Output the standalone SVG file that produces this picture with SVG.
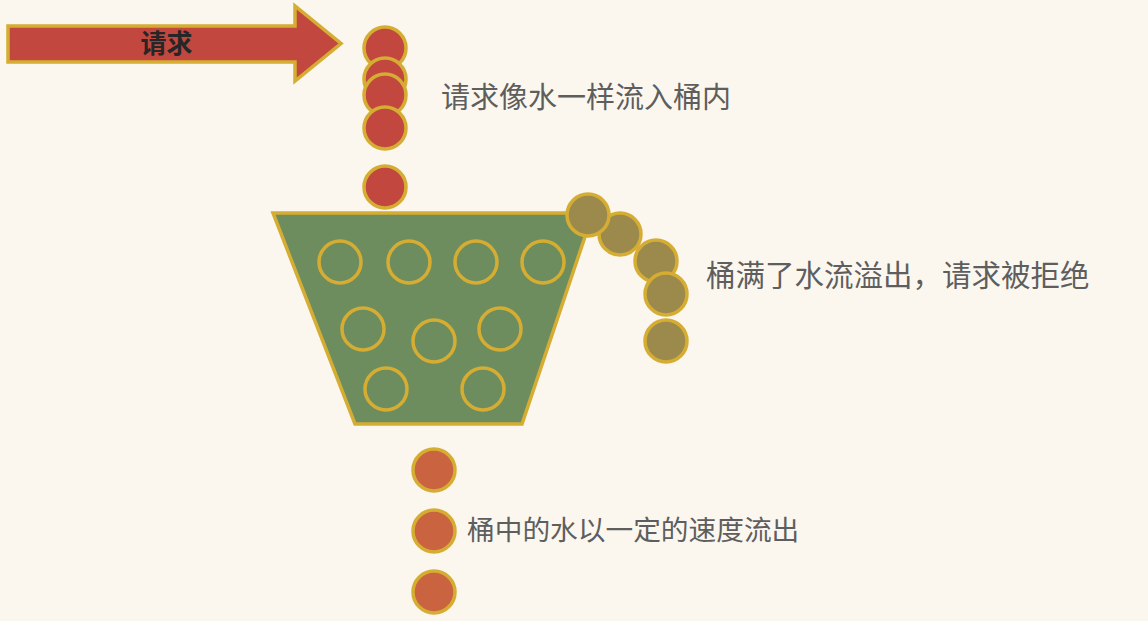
<svg xmlns="http://www.w3.org/2000/svg" width="1148" height="621" viewBox="0 0 1148 621">
  <style>
    .gold { stroke: #D5AD32; stroke-width: 3.5; }
    .red { fill: #C2483F; }
    .brown { fill: #9C8A4D; }
    .orange { fill: #CA6340; }
    .hollow { fill: none; stroke: #D5AD32; stroke-width: 3.5; }
    .label { font-family: "Noto Sans CJK SC", "Noto Sans", sans-serif; fill: #5E5E5E; }
    .arrowlabel { font-family: "Noto Sans CJK SC", "Noto Sans", sans-serif; fill: #262626; font-weight: bold; }
  </style>
  <rect width="1148" height="621" fill="#FBF7EF"/>

  <g id="request-arrow">
    <polygon class="gold red" points="8,26 295,26 295,6 341,43.5 295,81 295,62 8,62"/>
    <text class="arrowlabel" x="166.5" y="52.5" font-size="26" text-anchor="middle">请求</text>
  </g>

  <g id="incoming-drops">
    <circle class="gold red" cx="385" cy="48" r="21"/>
    <circle class="gold red" cx="385" cy="79" r="21"/>
    <circle class="gold red" cx="385" cy="95" r="21"/>
    <circle class="gold red" cx="385" cy="128" r="21"/>
    <circle class="gold red" cx="385" cy="187" r="21"/>
  </g>

  <g id="bucket">
    <polygon class="gold" fill="#6E8D5F" points="273,213 593,213 522,424 355,424"/>
    <circle class="hollow" cx="340" cy="262" r="21"/>
    <circle class="hollow" cx="409" cy="262" r="21"/>
    <circle class="hollow" cx="476" cy="262" r="21"/>
    <circle class="hollow" cx="543" cy="262" r="21"/>
    <circle class="hollow" cx="363" cy="329" r="21"/>
    <circle class="hollow" cx="434" cy="341" r="21"/>
    <circle class="hollow" cx="500" cy="329" r="21"/>
    <circle class="hollow" cx="386" cy="389" r="21"/>
    <circle class="hollow" cx="483" cy="389" r="21"/>
  </g>

  <g id="overflow-drops">
    <circle class="gold brown" cx="620" cy="234" r="21"/>
    <circle class="gold brown" cx="588" cy="215" r="21"/>
    <circle class="gold brown" cx="656" cy="261" r="21"/>
    <circle class="gold brown" cx="666" cy="294" r="21"/>
    <circle class="gold brown" cx="666" cy="341" r="21"/>
  </g>

  <g id="outflow-drops">
    <circle class="gold orange" cx="434" cy="470" r="21"/>
    <circle class="gold orange" cx="434" cy="531" r="21"/>
    <circle class="gold orange" cx="434" cy="592" r="21"/>
  </g>

  <g id="labels">
    <text class="label" x="441" y="108" font-size="29">请求像水一样流入桶内</text>
    <text class="label" x="706" y="286" font-size="29.5">桶满了水流溢出，请求被拒绝</text>
    <text class="label" x="467" y="540" font-size="27.7">桶中的水以一定的速度流出</text>
  </g>

  <g id="connectors"></g>
</svg>
